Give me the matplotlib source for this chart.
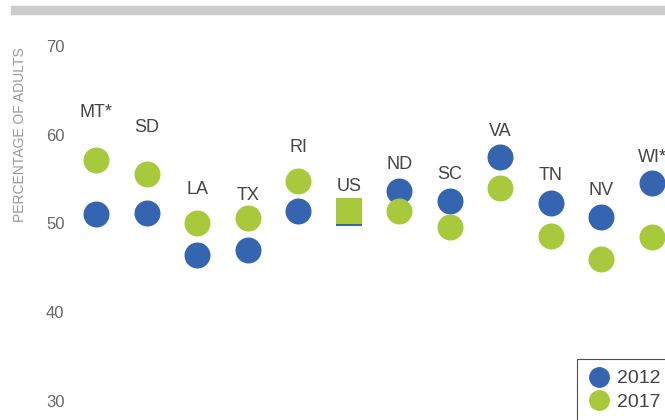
import matplotlib
matplotlib.use("Agg")
import matplotlib.pyplot as plt
from matplotlib.lines import Line2D
from matplotlib.patches import Rectangle

plt.rcParams['font.family'] = ['Liberation Sans', 'DejaVu Sans']

states = ["MT*", "SD", "LA", "TX", "RI", "US", "ND", "SC", "VA", "TN", "NV", "WI*"]
pct_2012 = [51.1, 51.2, 46.5, 47.0, 51.4, 51.2, 53.7, 52.5, 57.5, 52.3, 50.7, 54.6]
pct_2017 = [57.2, 55.6, 50.1, 50.6, 54.8, 51.4, 51.4, 49.6, 54.0, 48.6, 46.0, 48.5]
y_ticks = [30, 40, 50, 60, 70]

# label gap above the higher dot, in pixels
label_gap = [47, 46, 33, 23, 33, 25, 26, 27, 25, 28, 27, 25]

blue = "#3565b0"
green = "#a7c93b"

fig = plt.figure(figsize=(6.65, 4.2), dpi=100)
fig.patches.append(Rectangle((11 / 665, 1 - 14 / 420), 1, 8 / 420,
                             transform=fig.transFigure, color="#cccccc", zorder=0))

ax = fig.add_axes([70 / 665, 0, 595 / 665, 390 / 420])
is_us = [s == "US" for s in states]

for i, s in enumerate(states):
    mk = 's' if is_us[i] else 'o'
    ax.scatter(i, pct_2012[i], s=350, marker=mk, color=blue, linewidths=0, zorder=3)
    ax.scatter(i, pct_2017[i], s=350, marker=mk, color=green, linewidths=0, zorder=4)
    top = max(pct_2012[i], pct_2017[i])
    ax.annotate(s, (i, top), xytext=(0, label_gap[i]), textcoords='offset pixels',
                ha='center', va='center', fontsize=13, color="#444444")

ax.set_xlim(-26 / 50.55, 11 + 13 / 50.55)
ax.set_ylim(70 - 374 / 8.875, 70 + 16 / 8.875)
ax.set_yticks(y_ticks)
ax.set_yticklabels([str(t) for t in y_ticks])
ax.tick_params(axis='y', length=0, pad=4, labelsize=12, labelcolor="#666666")
ax.set_xticks([])
for sp in ax.spines.values():
    sp.set_visible(False)

fig.text(20 / 665, 1 - 135 / 420, "PERCENTAGE OF ADULTS", rotation=90,
         ha='center', va='center', fontsize=10, color="#999999")

handles = [Line2D([], [], marker='o', linestyle='', markersize=14, color=blue),
           Line2D([], [], marker='o', linestyle='', markersize=14, color=green)]
leg = fig.legend(handles, ["2012    ", "2017    "], loc='upper left',
                 bbox_to_anchor=(577 / 665, 1 - 359 / 420), frameon=True,
                 fontsize=14, handletextpad=0.3, handlelength=1.2,
                 borderpad=0.55, labelspacing=0.3, fancybox=False,
                 borderaxespad=0)
leg.get_frame().set_edgecolor("#222222")
leg.get_frame().set_linewidth(0.8)
for t in leg.get_texts():
    t.set_color("#444444")

fig.savefig("out.png", dpi=100)
